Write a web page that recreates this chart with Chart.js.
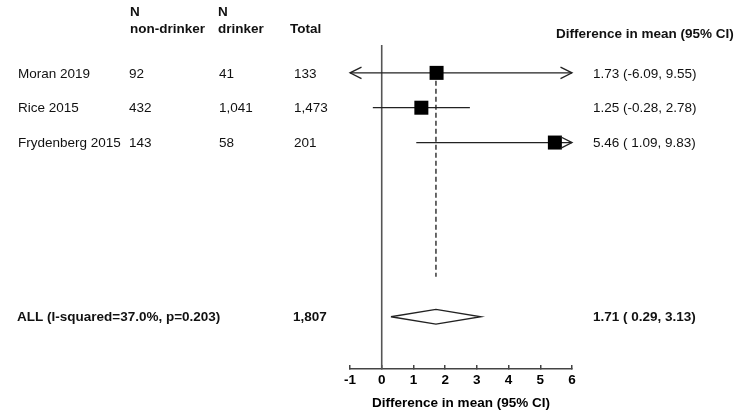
<!DOCTYPE html>
<html>
<head>
<meta charset="utf-8">
<title>Forest plot: difference in mean</title>
<script src="https://cdn.jsdelivr.net/npm/chart.js@4.4.1/dist/chart.umd.min.js"></script>
<style>
  html, body { margin: 0; padding: 0; background: #fff; }
  canvas { display: block; }
</style>
</head>
<body>
<canvas id="forest" width="738" height="414"></canvas>
<script>
// Study-level data
const studies = ['Moran 2019', 'Rice 2015', 'Frydenberg 2015'];
const nNonDrinker = [92, 432, 143];
const nDrinker = [41, 1041, 58];
const nTotal = [133, 1473, 201];
const meanDiff = [1.73, 1.25, 5.46];
const ciLower = [-6.09, -0.28, 1.09];
const ciUpper = [9.55, 2.78, 9.83];

// Pooled estimate
const pooledLabel = 'ALL (I-squared=37.0%, p=0.203)';
const pooledTotal = 1807;
const pooledDiff = 1.71;
const pooledLower = 0.29;
const pooledUpper = 3.13;

// Axis ticks
const xTicks = [-1, 0, 1, 2, 3, 4, 5, 6];

const FONT = '"Liberation Sans", Arial, Helvetica, sans-serif';
const INK = '#111';
const LINE = '#222';
const POOLED_ROW = 8;
const rowOf = i => i + 1;

const fmtN = n => n.toLocaleString('en-US');
const fmtLo = v => (v < 0 ? v.toFixed(2) : ' ' + v.toFixed(2));
const fmtCI = (d, lo, hi) => `${d.toFixed(2)} (${fmtLo(lo)}, ${hi.toFixed(2)})`;

const xMin = xTicks[0];
const xMax = xTicks[xTicks.length - 1];

// Confidence interval segments, one dataset per study
const ciSets = studies.map((s, i) => ({
  label: s + ' CI',
  data: [{ x: ciLower[i], y: rowOf(i) }, { x: ciUpper[i], y: rowOf(i) }],
  showLine: true,
  borderColor: LINE,
  borderWidth: 1.3,
  pointRadius: 0
}));

const diamondHalf = 0.21;

const data = {
  datasets: [
    {
      label: 'Study estimates',
      data: meanDiff.map((d, i) => ({ x: d, y: rowOf(i) })),
      showLine: false,
      pointStyle: 'rect',
      pointRadius: 9.9,
      pointHoverRadius: 9.9,
      backgroundColor: '#000',
      borderColor: '#000',
      borderWidth: 0
    },
    {
      label: 'Pooled estimate',
      data: [
        { x: pooledLower, y: POOLED_ROW },
        { x: pooledDiff, y: POOLED_ROW - diamondHalf },
        { x: pooledUpper, y: POOLED_ROW },
        { x: pooledDiff, y: POOLED_ROW + diamondHalf },
        { x: pooledLower, y: POOLED_ROW }
      ],
      showLine: true,
      borderColor: LINE,
      borderWidth: 1.3,
      pointRadius: 0
    },
    ...ciSets,
    {
      label: 'Pooled reference',
      data: [{ x: pooledDiff, y: rowOf(0) }, { x: pooledDiff, y: 6.85 }],
      showLine: true,
      borderColor: '#444',
      borderWidth: 1.6,
      borderDash: [5, 3],
      pointRadius: 0
    },
    {
      label: 'No effect',
      data: [{ x: 0, y: 0.2 }, { x: 0, y: 9.5 }],
      showLine: true,
      borderColor: '#555',
      borderWidth: 1.6,
      pointRadius: 0
    }
  ]
};

// Arrowheads where an interval runs past the axis range
const arrowPlugin = {
  id: 'ciArrows',
  afterDatasetsDraw(chart) {
    const { ctx, scales: { x, y } } = chart;
    ctx.save();
    ctx.strokeStyle = LINE;
    ctx.lineWidth = 1.3;
    const len = 11.5, half = 5.8;
    studies.forEach((s, i) => {
      const py = y.getPixelForValue(rowOf(i));
      if (ciLower[i] < xMin) {
        const tip = x.getPixelForValue(xMin);
        ctx.beginPath();
        ctx.moveTo(tip + len, py - half);
        ctx.lineTo(tip, py);
        ctx.lineTo(tip + len, py + half);
        ctx.stroke();
      }
      if (ciUpper[i] > xMax) {
        const tip = x.getPixelForValue(xMax);
        ctx.beginPath();
        ctx.moveTo(tip - len, py - half);
        ctx.lineTo(tip, py);
        ctx.lineTo(tip - len, py + half);
        ctx.stroke();
      }
    });
    ctx.restore();
  }
};

// Side table: study names, sample sizes and estimates
const tablePlugin = {
  id: 'sideTable',
  afterDraw(chart) {
    const { ctx, scales: { y } } = chart;
    ctx.save();
    ctx.fillStyle = INK;
    ctx.textBaseline = 'middle';
    ctx.textAlign = 'left';
    const put = (s, px, py, bold) => {
      ctx.font = (bold ? 'bold ' : '') + '13.5px ' + FONT;
      ctx.fillText(s, px, py);
    };

    // Column headers
    put('N', 130, 12.5, true);
    put('non-drinker', 130, 29.5, true);
    put('N', 218, 12.5, true);
    put('drinker', 218, 29.5, true);
    put('Total', 290, 29.5, true);
    put('Difference in mean (95% CI)', 556, 34, true);

    // Study rows
    studies.forEach((s, i) => {
      const py = y.getPixelForValue(rowOf(i)) + 1;
      put(s, 18, py, false);
      put(fmtN(nNonDrinker[i]), 129, py, false);
      put(fmtN(nDrinker[i]), 219, py, false);
      put(fmtN(nTotal[i]), 294, py, false);
      put(fmtCI(meanDiff[i], ciLower[i], ciUpper[i]), 593, py, false);
    });

    // Pooled row
    const pp = y.getPixelForValue(POOLED_ROW) + 0.5;
    put(pooledLabel, 17, pp, true);
    put(fmtN(pooledTotal), 293, pp, true);
    put(fmtCI(pooledDiff, pooledLower, pooledUpper), 593, pp, true);
    ctx.restore();
  }
};

new Chart(document.getElementById('forest'), {
  type: 'scatter',
  data,
  plugins: [arrowPlugin, tablePlugin],
  options: {
    responsive: false,
    animation: false,
    devicePixelRatio: 1,
    layout: { padding: { left: 350, right: 166, top: 45, bottom: 2.6 } },
    elements: { line: { tension: 0 } },
    plugins: {
      legend: { display: false },
      tooltip: { enabled: false }
    },
    scales: {
      x: {
        type: 'linear',
        min: xMin,
        max: xMax,
        afterBuildTicks: scale => { scale.ticks = xTicks.map(v => ({ value: v })); },
        ticks: {
          font: { family: FONT, size: 13.5, weight: 'bold' },
          color: '#000',
          padding: 7,
          maxRotation: 0,
          autoSkip: false
        },
        grid: {
          display: true,
          drawOnChartArea: false,
          drawTicks: true,
          tickLength: -4,
          color: '#444',
          lineWidth: 1.5
        },
        border: { display: true, color: '#444', width: 1.5 },
        title: {
          display: true,
          text: 'Difference in mean (95% CI)',
          font: { family: FONT, size: 13.5, weight: 'bold' },
          color: '#000',
          padding: { top: 0, bottom: 0 }
        }
      },
      y: {
        type: 'linear',
        reverse: true,
        min: 0.2,
        max: 9.5,
        display: false
      }
    }
  }
});
</script>
</body>
</html>
